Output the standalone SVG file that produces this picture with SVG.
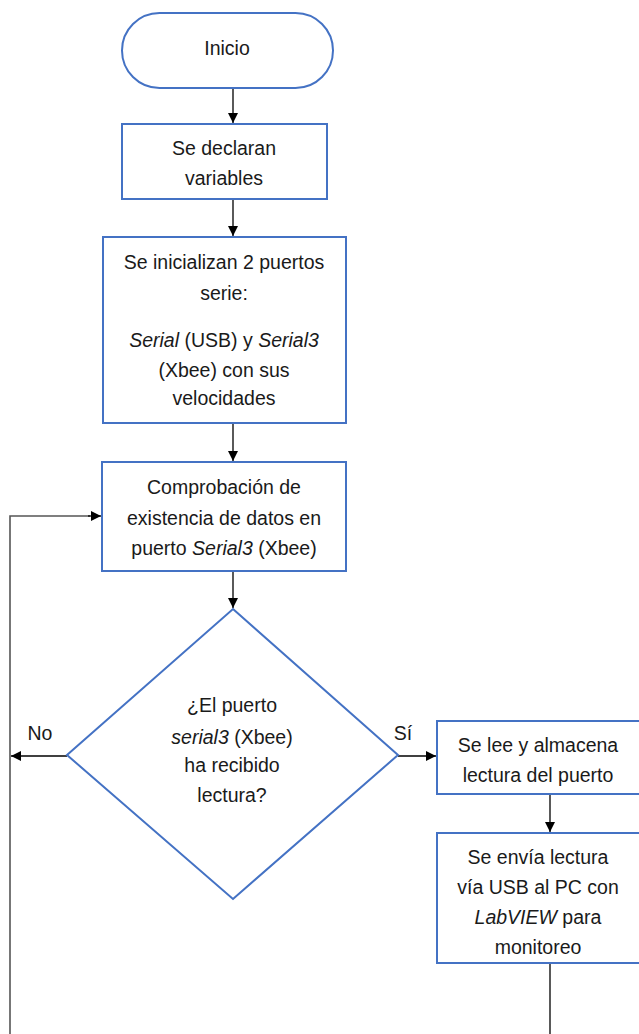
<svg xmlns="http://www.w3.org/2000/svg" width="639" height="1034" viewBox="0 0 639 1034">
<style>
.n{fill:#fff;stroke:#4472C4;stroke-width:2}
.t{font-family:"Liberation Sans",Arial,sans-serif;font-size:19.5px;fill:#1a1a1a;text-anchor:middle}
.i{font-style:italic}
.c{fill:none;stroke:#000;stroke-width:1.3}
.g{fill:none;stroke:#555;stroke-width:1.6}
</style>
<defs>
<marker id="a" viewBox="0 0 10 10" refX="10" refY="5" markerWidth="10" markerHeight="10" markerUnits="userSpaceOnUse" orient="auto">
<path d="M0,0 L10,5 L0,10 z" fill="#000"/>
</marker>
</defs>
<rect width="639" height="1034" fill="#fff"/>
<g id="connectors">
<line class="c" x1="233" y1="88" x2="233" y2="123" marker-end="url(#a)"/>
<line class="c" x1="233" y1="199" x2="233" y2="236" marker-end="url(#a)"/>
<line class="c" x1="233" y1="423" x2="233" y2="461" marker-end="url(#a)"/>
<line class="c" x1="233" y1="571" x2="233" y2="608" marker-end="url(#a)"/>
<line class="c" x1="67" y1="756" x2="11" y2="756" marker-end="url(#a)"/>
<line class="c" x1="398" y1="756" x2="436" y2="756" marker-end="url(#a)"/>
<line class="c" x1="550" y1="794" x2="550" y2="832" marker-end="url(#a)"/>
<line class="c" x1="550" y1="963" x2="550" y2="1034"/>
<polyline class="g" points="10,1034 10,516 90,516"/>
<line class="c" x1="88" y1="516" x2="101" y2="516" marker-end="url(#a)"/>
<text class="t" x="40" y="740">No</text>
<text class="t" x="403" y="740">Sí</text>
</g>
<g id="inicio">
<rect class="n" x="122" y="13" width="211" height="75" rx="37.5"/>
<text class="t" x="227" y="55">Inicio</text>
</g>
<g id="declarar">
<rect class="n" x="122" y="124" width="205" height="75"/>
<text class="t" x="224" y="155">Se declaran</text>
<text class="t" x="224" y="185">variables</text>
</g>
<g id="inicializar">
<rect class="n" x="103" y="237" width="243" height="186"/>
<text class="t" x="224" y="269">Se inicializan 2 puertos</text>
<text class="t" x="224" y="300">serie:</text>
<text class="t" x="224" y="347"><tspan class="i">Serial</tspan> (USB) y <tspan class="i">Serial3</tspan></text>
<text class="t" x="224" y="377">(Xbee) con sus</text>
<text class="t" x="224" y="405">velocidades</text>
</g>
<g id="comprobar">
<rect class="n" x="102" y="462" width="244" height="109"/>
<text class="t" x="224" y="494">Comprobación de</text>
<text class="t" x="224" y="525">existencia de datos en</text>
<text class="t" x="224" y="555">puerto <tspan class="i">Serial3</tspan> (Xbee)</text>
</g>
<g id="decision">
<polygon class="n" points="233,609 398,755 233,899 67,755"/>
<text class="t" x="232" y="712">¿El puerto</text>
<text class="t" x="232" y="744"><tspan class="i">serial3</tspan> (Xbee)</text>
<text class="t" x="232" y="772">ha recibido</text>
<text class="t" x="232" y="802">lectura?</text>
</g>
<g id="leer">
<rect class="n" x="437" y="721" width="206" height="73"/>
<text class="t" x="538" y="752">Se lee y almacena</text>
<text class="t" x="538" y="782">lectura del puerto</text>
</g>
<g id="enviar">
<rect class="n" x="437" y="833" width="206" height="130"/>
<text class="t" x="538" y="864">Se envía lectura</text>
<text class="t" x="538" y="894">vía USB al PC con</text>
<text class="t" x="538" y="924"><tspan class="i">LabVIEW</tspan> para</text>
<text class="t" x="538" y="954">monitoreo</text>
</g>
</svg>
